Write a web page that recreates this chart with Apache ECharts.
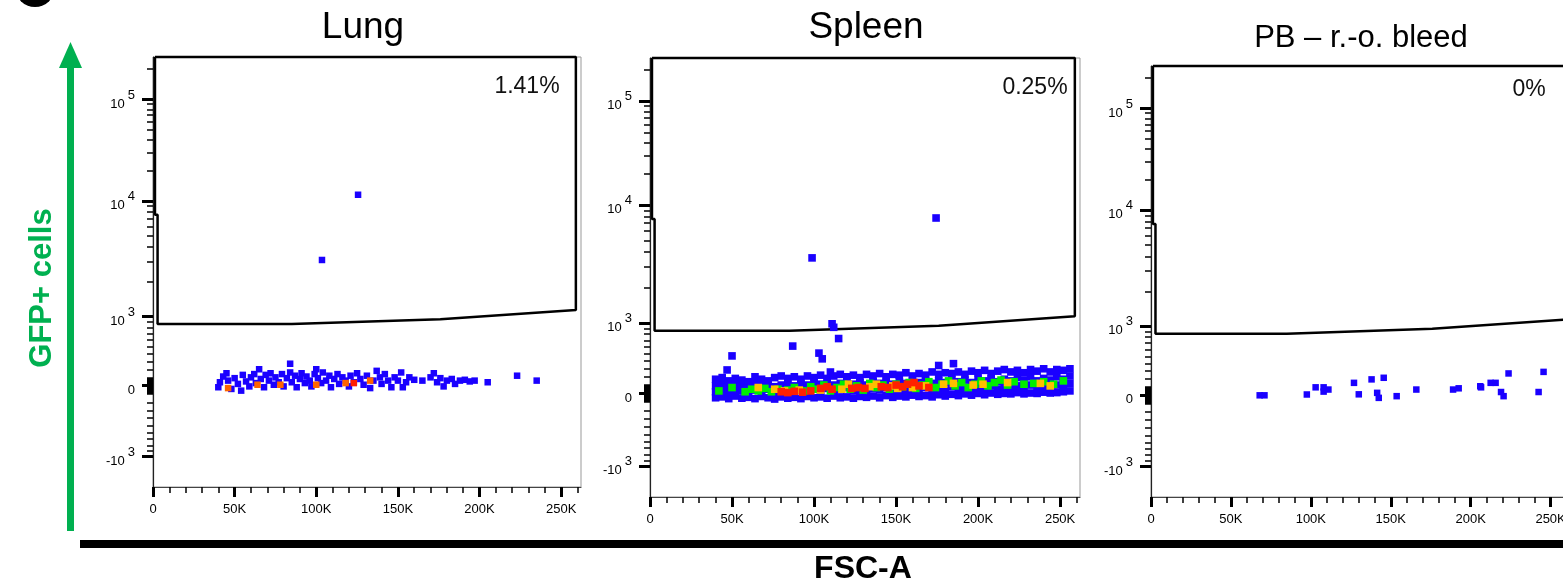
<!DOCTYPE html>
<html><head><meta charset="utf-8">
<script src="https://cdn.jsdelivr.net/npm/echarts@6/dist/echarts.min.js"></script>
<style>html,body{margin:0;padding:0;background:#fff}#c{width:1563px;height:586px}</style>
</head><body><div id="c"></div>
<script>
// ---------- data ----------
const panelTitles = ['Lung', 'Spleen', 'PB \u2013 r.-o. bleed'];
const gatePercents = ['1.41%', '0.25%', '0%'];
const FSC_MAX = 262144;
const xMajorTicks = [0, 50000, 100000, 150000, 200000, 250000];
const xMajorLabels = ['0', '50K', '100K', '150K', '200K', '250K'];
const xMinorTicks = [10000, 20000, 30000, 40000, 60000, 70000, 80000, 90000, 110000, 120000, 130000, 140000,
  160000, 170000, 180000, 190000, 210000, 220000, 230000, 240000, 260000];
const yMajorTicks = [100000, 10000, 1000, 0, -1000];
const yMajorLabels = ['{b|10}{s|5}', '{b|10}{s|4}', '{b|10}{s|3}', '{b|0}', '{b|-10}{s|3}'];
const yMinorTicks = [200000, 90000, 80000, 70000, 60000, 50000, 40000, 30000, 20000,
  9000, 8000, 7000, 6000, 5000, 4000, 3000, 2000,
  900, 800, 700, 600, 500, 400, 300, 200, 100, 90, 80, 70, 60, 50, 40, 30, 20, 10,
  -10, -20, -30, -40, -50, -60, -70, -80, -90, -100, -200, -300, -400, -500, -600, -700, -800, -900];
const Y_MIN_DISPLAY = -1.0;

// gate polygon [FSC, GFP] (same gate for all samples)
const gate = [[1200, 262144], [1200, 7600], [2800, 7600], [2800, 860], [85000, 860], [176000, 950],
  [259000, 1140], [259000, 262144], [1200, 262144]];

// Lung [FSC in K, GFP]
const lungBlue = [[103.5, 3085], [125.6, 11500],
  [40, -20], [41, 40], [43, 110], [45, 150], [46, 60], [48, -40], [50, 90], [52, 20], [54, -60], [55, 130], [57, 50],
  [59, -10], [60, 100], [62, 140], [63, 30], [65, 200], [66, 80], [68, -20], [69, 130], [71, 60], [72, 150], [74, 10],
  [75, 100], [77, 40], [79, 140], [80, -10], [82, 90], [84, 160], [84, 270], [85, 40], [87, 120], [88, -20], [90, 80],
  [91, 150], [93, 30], [94, 110], [96, 60], [97, -10], [99, 140], [100, 200], [101, 90], [103, 30], [104, 160],
  [106, 60], [108, 120], [109, -20], [111, 80], [113, 140], [114, 20], [116, 100], [118, 60], [120, -10], [121, 120],
  [123, 40], [125, 150], [127, 80], [129, 10], [131, 120], [133, -30], [135, 60], [137, 180], [139, 100], [140, 20],
  [142, 140], [144, 60], [146, -20], [148, 100], [150, 60], [152, 160], [153, -20], [155, 40], [157, 100], [160, 70],
  [165, 60], [170, 100], [172, 150], [174, 40], [176, 90], [178, -10], [180, 60], [183, 80], [185, 20], [188, 60],
  [191, 70], [194, 50], [197, 60], [205, 40], [223, 120], [235, 60]];
const lungOrange = [[46, -30], [64, 10], [78, 10], [100, 10], [118, 30], [133, 60]];
const lungRed = [[123, 30]];

// Spleen [FSC in K, GFP]
const spleenBlue = [[98.8, 3560], [174.4, 7750], [111, 985], [112, 920], [115, 728], [87, 611], [50, 470], [47, 285],
  [103, 509], [105, 430], [110, 259], [176, 342], [185, 366],
  [40, -50], [40, 20], [40, 90], [40, 170], [44, -40], [44, 40], [44, 120], [44, 190],
  [48, -60], [48, 10], [48, 80], [48, 150], [52, -30], [52, 50], [52, 110], [52, 180],
  [56, -55], [56, 30], [56, 100], [56, 160], [60, -45], [60, 0], [60, 70], [60, 140],
  [64, -60], [64, 40], [64, 120], [64, 200], [68, -35], [68, 20], [68, 90], [68, 170],
  [72, -50], [72, 50], [72, 110], [72, 150], [76, -65], [76, 10], [76, 80], [76, 190],
  [80, -40], [80, 30], [80, 100], [80, 210], [84, -55], [84, 60], [84, 130], [84, 180],
  [88, -45], [88, 20], [88, 90], [88, 200], [92, -60], [92, 40], [92, 120], [92, 170],
  [96, -35], [96, 10], [96, 100], [96, 210], [100, -50], [100, 50], [100, 130], [100, 190],
  [104, -40], [104, 30], [104, 110], [104, 220], [108, -55], [108, 60], [108, 140], [108, 180],
  [112, -30], [112, 20], [112, 100], [112, 210], [116, -50], [116, 40], [116, 120], [116, 230],
  [120, -40], [120, 70], [120, 150], [120, 200], [124, -55], [124, 30], [124, 110], [124, 220],
  [128, -35], [128, 50], [128, 130], [128, 190], [132, -45], [132, 20], [132, 100], [132, 230],
  [136, -30], [136, 60], [136, 140], [136, 210], [140, -50], [140, 40], [140, 120], [140, 240],
  [144, -25], [144, 70], [144, 150], [144, 200], [148, -45], [148, 30], [148, 110], [148, 230],
  [152, -30], [152, 50], [152, 140], [152, 220], [156, -40], [156, 20], [156, 120], [156, 250],
  [160, -20], [160, 60], [160, 150], [160, 210], [164, -35], [164, 40], [164, 130], [164, 240],
  [168, -25], [168, 70], [168, 160], [168, 220], [172, -40], [172, 30], [172, 120], [172, 260],
  [176, -15], [176, 60], [176, 150], [176, 230], [180, -30], [180, 40], [180, 130], [180, 250],
  [184, -10], [184, 80], [184, 170], [184, 240], [188, -25], [188, 50], [188, 140], [188, 260],
  [192, -5], [192, 70], [192, 160], [192, 230], [196, -20], [196, 40], [196, 130], [196, 270],
  [200, 0], [200, 80], [200, 170], [200, 250], [204, -15], [204, 60], [204, 150], [204, 280],
  [208, 5], [208, 90], [208, 180], [208, 240], [212, -10], [212, 50], [212, 140], [212, 270],
  [216, 0], [216, 80], [216, 170], [216, 290], [220, -5], [220, 60], [220, 150], [220, 260],
  [224, 10], [224, 90], [224, 190], [224, 280], [228, -5], [228, 70], [228, 160], [228, 250],
  [232, 5], [232, 100], [232, 200], [232, 290], [236, 0], [236, 60], [236, 150], [236, 270],
  [240, 15], [240, 90], [240, 180], [240, 300], [244, 5], [244, 70], [244, 160], [244, 260],
  [248, 10], [248, 100], [248, 200], [248, 290], [252, 20], [252, 80], [252, 170], [252, 280],
  [256, 30], [256, 120], [256, 210], [256, 300]];
const spleenGreen = [[42, 30], [50, 70], [58, 20], [62, 50], [66, 30], [70, 60], [74, 20], [78, 50], [84, 40], [88, 70],
  [94, 30], [98, 80], [102, 50], [106, 100], [110, 30], [114, 70], [118, 110], [122, 50], [126, 90], [130, 40],
  [134, 120], [138, 70], [142, 100], [146, 50], [150, 110], [154, 80], [158, 130], [162, 60], [166, 100], [170, 140],
  [174, 70], [178, 110], [182, 150], [186, 90], [190, 130], [194, 70], [198, 110], [202, 150], [206, 90], [210, 130],
  [214, 160], [218, 100], [222, 140], [228, 110], [234, 120], [240, 140], [246, 110], [252, 150]];
const spleenYellow = [[66, 70], [76, 50], [82, 30], [91, 40], [104, 40], [117, 50], [121, 110], [134, 80], [138, 110],
  [148, 90], [151, 60], [160, 70], [168, 90], [179, 110], [185, 120], [197, 100], [203, 110], [218, 130], [238, 120],
  [244, 90]];
const spleenRed = [[80, 20], [84, 10], [88, 25], [93, 15], [98, 30], [104, 60], [108, 80], [111, 50], [123, 60],
  [127, 70], [131, 60], [141, 80], [145, 70], [150, 100], [154, 80], [157, 110], [161, 130], [164, 90], [170, 70]];

// PB [FSC in K, GFP]
const pbBlue = [[68, 0], [71, 0], [97.5, 10], [103, 97], [108, 97], [108, 45], [111, 70], [127, 152], [130, 12],
  [138, 195], [141.5, 30], [142.5, -30], [145.6, 215], [153.7, -10], [166, 70], [189, 70], [192.5, 85], [206, 110],
  [206.5, 97], [212.5, 152], [215.6, 152], [219, 40], [220.6, -10], [223.7, 270], [242.5, 40], [245.6, 290]];

// ---------- biexponential display transform ----------
function T(v) {
  if (v >= 1e5) return 2.82 + Math.log10(v / 1e5);
  if (v >= 1e4) return 1.82 + Math.log10(v / 1e4);
  if (v >= 1e3) return 0.68 + 1.14 * Math.log10(v / 1e3);
  if (v >= 0) return 0.68 * Math.asinh(v / 800) / Math.asinh(1.25);
  if (v > -1e3) return 0.70 * Math.asinh(v / 800) / Math.asinh(1.25);
  return -0.70 - 1.14 * Math.log10(-v / 1e3);
}
const Y_MAX_DISPLAY = T(FSC_MAX);
const pts = arr => arr.map(p => [p[0] * 1000, T(p[1])]);

const FONT = '"Liberation Sans", Arial, Helvetica, sans-serif';
const grids = [
  { left: 153, top: 57, width: 428, height: 430 },
  { left: 650, top: 58, width: 430, height: 439 },
  { left: 1151, top: 66, width: 419, height: 431 }
];

const xAxes = [], yAxes = [];
grids.forEach((g, i) => {
  xAxes.push({
    type: 'value', gridIndex: i, min: 0, max: FSC_MAX, position: 'bottom',
    axisLine: { show: true, onZero: false, lineStyle: { color: '#444', width: 1.2 } },
    axisTick: { show: true, inside: false, customValues: xMajorTicks, length: 10, lineStyle: { color: '#000', width: 3 } },
    axisLabel: { show: true, customValues: xMajorTicks, margin: 16, fontSize: 13, fontFamily: FONT, color: '#000',
      formatter: v => { const k = xMajorTicks.indexOf(v); return k >= 0 ? xMajorLabels[k] : ''; } },
    splitLine: { show: false }
  });
  xAxes.push({
    type: 'value', gridIndex: i, min: 0, max: FSC_MAX, position: 'bottom',
    axisLine: { show: false, onZero: false },
    axisTick: { show: true, inside: false, customValues: xMinorTicks, length: 6, lineStyle: { color: '#000', width: 1.5 } },
    axisLabel: { show: false }, splitLine: { show: false }
  });
  yAxes.push({
    type: 'value', gridIndex: i, min: Y_MIN_DISPLAY, max: Y_MAX_DISPLAY, position: 'left',
    axisLine: { show: true, onZero: false, lineStyle: { color: '#222', width: 1.2 } },
    axisTick: { show: true, inside: false, customValues: yMajorTicks.map(T), length: 11, lineStyle: { color: '#000', width: 3 } },
    axisLabel: {
      show: true, customValues: yMajorTicks.map(T), margin: 18, fontFamily: FONT, color: '#000',
      formatter: v => { for (let k = 0; k < yMajorTicks.length; k++) if (Math.abs(T(yMajorTicks[k]) - v) < 1e-6) return yMajorLabels[k]; return ''; },
      rich: {
        b: { fontSize: 13, fontFamily: FONT, color: '#000', verticalAlign: 'bottom', lineHeight: 22 },
        s: { fontSize: 13, fontFamily: FONT, color: '#000', verticalAlign: 'top', lineHeight: 22, padding: [0, 0, 0, 3] }
      }
    },
    splitLine: { show: false }
  });
  yAxes.push({
    type: 'value', gridIndex: i, min: Y_MIN_DISPLAY, max: Y_MAX_DISPLAY, position: 'left',
    axisLine: { show: false, onZero: false },
    axisTick: { show: true, inside: false, customValues: yMinorTicks.map(T), length: 6, lineStyle: { color: '#000', width: 1.5 } },
    axisLabel: { show: false }, splitLine: { show: false }
  });
});

const gateSeries = i => ({
  type: 'line', xAxisIndex: 2 * i, yAxisIndex: 2 * i, data: gate.map(p => [p[0], T(p[1])]),
  symbol: 'none', clip: false, lineStyle: { color: '#000', width: 2.5 }, z: 2, silent: true
});
const sc = (i, arr, color, size) => ({
  type: 'scatter', xAxisIndex: 2 * i, yAxisIndex: 2 * i, data: pts(arr), symbol: 'rect', symbolSize: size,
  itemStyle: { color: color, opacity: 1 }, z: 3, silent: true
});

const series = [
  gateSeries(0), gateSeries(1), gateSeries(2),
  sc(0, lungBlue, '#1a00ff', 6.5), sc(0, lungOrange, '#ff6400', 6.5), sc(0, lungRed, '#ff1e00', 6.5),
  sc(1, spleenBlue, '#1a00ff', 7.6), sc(1, spleenGreen, '#00ee00', 7.6), sc(1, spleenYellow, '#ffbf00', 7.6), sc(1, spleenRed, '#ff2000', 7.6),
  sc(2, pbBlue, '#1a00ff', 6.5)
];

const titleCenters = [[363, 28], [866, 28], [1361, 38]];
const titleSizes = [37, 37, 31];
const pctCenters = [[527, 87], [1035, 88], [1529, 90]];
const graphic = [
  { type: 'circle', shape: { cx: 35, cy: -13, r: 20 }, style: { fill: '#000' } },
  { type: 'rect', shape: { x: 67, y: 64, width: 7, height: 467 }, style: { fill: '#00b050' } },
  { type: 'polygon', shape: { points: [[70.5, 42], [59, 68], [82, 68]] }, style: { fill: '#00b050' } },
  { type: 'text', x: 42, y: 288, rotation: Math.PI / 2,
    style: { text: 'GFP+ cells', font: 'bold 31px ' + FONT, fill: '#00b050', align: 'center', verticalAlign: 'middle' } },
  { type: 'rect', shape: { x: 80, y: 540, width: 1483, height: 8 }, style: { fill: '#000' } },
  { type: 'text', x: 863, y: 569, style: { text: 'FSC-A', font: 'bold 32px ' + FONT, fill: '#000', align: 'center', verticalAlign: 'middle' } }
];
panelTitles.forEach((t, i) => {
  graphic.push({ type: 'text', x: titleCenters[i][0], y: titleCenters[i][1],
    style: { text: t, font: titleSizes[i] + 'px ' + FONT, fill: '#000', align: 'center', verticalAlign: 'middle' } });
  graphic.push({ type: 'text', x: pctCenters[i][0], y: pctCenters[i][1],
    style: { text: gatePercents[i], font: '23px ' + FONT, fill: '#111', align: 'center', verticalAlign: 'middle' } });
});

const chart = echarts.init(document.getElementById('c'), null, { renderer: 'canvas' });
chart.setOption({
  animation: false,
  backgroundColor: '#fff',
  grid: grids.map(g => Object.assign({ show: true, borderColor: '#999', borderWidth: 1, backgroundColor: 'transparent',
    outerBoundsMode: 'none', containLabel: false }, g)),
  xAxis: xAxes,
  yAxis: yAxes,
  series: series,
  graphic: graphic
});
</script></body></html>
